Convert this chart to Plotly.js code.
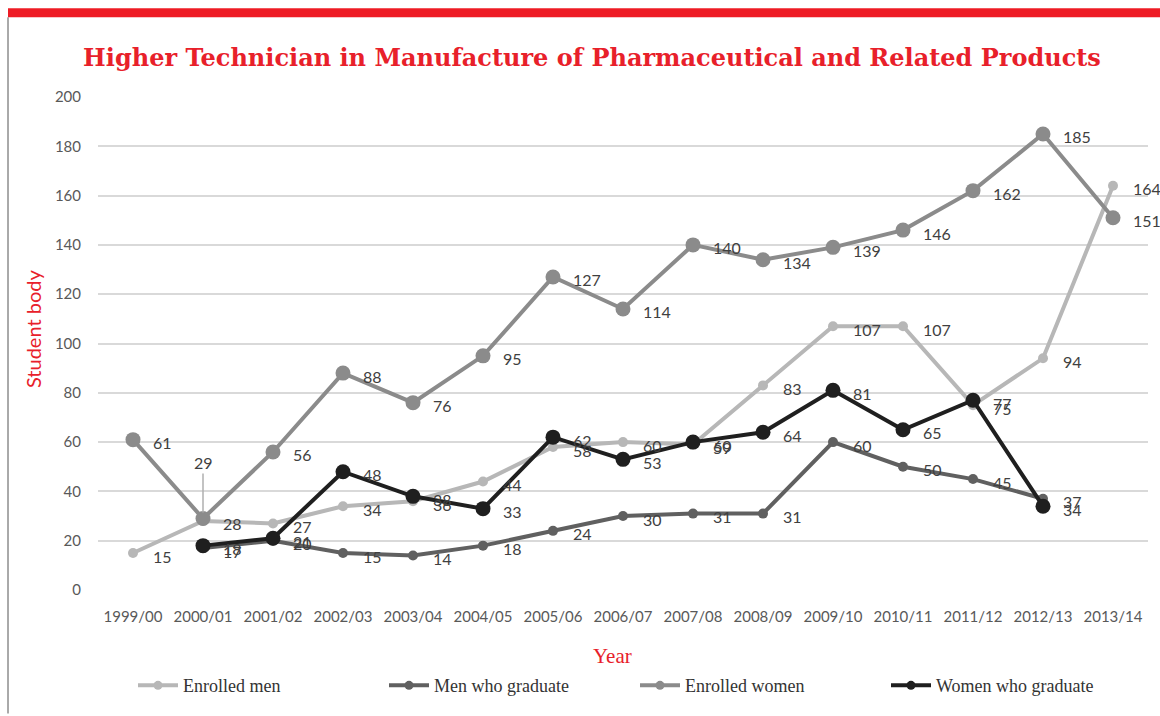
<!DOCTYPE html>
<html><head><meta charset="utf-8">
<script src="https://cdn.plot.ly/plotly-3.0.1.min.js"></script>
<style>html,body{margin:0;padding:0;background:#fff}#chart{width:1160px;height:716px}</style>
</head><body><div id="chart"></div>
<script>
const years = ["1999/00","2000/01","2001/02","2002/03","2003/04","2004/05","2005/06","2006/07","2007/08","2008/09","2009/10","2010/11","2011/12","2012/13","2013/14"];
const enrolledMen = [15,28,27,34,36,44,58,60,59,83,107,107,75,94,164];
const menGraduate = [null,17,20,15,14,18,24,30,31,31,60,50,45,37,null];
const enrolledWomen = [61,29,56,88,76,95,127,114,140,134,139,146,162,185,151];
const womenGraduate = [null,18,21,48,38,33,62,53,60,64,81,65,77,34,null];
const seriesNames = ["Enrolled men","Men who graduate","Enrolled women","Women who graduate"];
const yTicks = [0,20,40,60,80,100,120,140,160,180,200];

const series = [
  {name: seriesNames[0], y: enrolledMen, color: "#b7b7b7", size: 10},
  {name: seriesNames[1], y: menGraduate, color: "#606060", size: 10},
  {name: seriesNames[2], y: enrolledWomen, color: "#8b8b8b", size: 15},
  {name: seriesNames[3], y: womenGraduate, color: "#1f1f1f", size: 15}
];

const traces = series.map(s => ({
  type: "scatter", mode: "lines+markers", name: s.name, showlegend: false,
  x: years, y: s.y, connectgaps: false,
  line: {color: s.color, width: 4},
  marker: {color: s.color, size: s.size},
  hoverinfo: "x+y"
}));
// legend entries (no data of their own, small legend symbols like the reference)
series.forEach(s => traces.push({
  type: "scatter", mode: "lines+markers", name: s.name, showlegend: true,
  x: [null], y: [null],
  line: {color: s.color, width: 4},
  marker: {color: s.color, size: 9}
}));

const annotations = [];
series.forEach((s, si) => {
  s.y.forEach((v, i) => {
    if (v === null) return;
    if (si === 2 && i === 1) {
      annotations.push({x: years[i], y: v, text: String(v), showarrow: true, ax: 0, ay: -56,
        arrowhead: 0, arrowwidth: 1.5, arrowcolor: "#b0b0b0", standoff: 6,
        font: {family: "Lato, sans-serif", size: 16, color: "#404040"}});
      return;
    }
    annotations.push({x: years[i], y: v, text: String(v), showarrow: false,
      xanchor: "left", yanchor: "middle", xshift: 18, yshift: -3,
      font: {family: "Lato, sans-serif", size: 16, color: "#404040"}});
  });
});

annotations.push({xref: "paper", yref: "paper", x: (612-98)/1050, y: (592-658)/495, text: "Year",
  showarrow: false, xanchor: "center", yanchor: "middle",
  font: {family: "Liberation Serif, serif", size: 21, color: "#e8202a"}});
annotations.push({xref: "paper", yref: "paper", x: (33-98)/1050, y: (592-330)/495, text: "Student body",
  showarrow: false, xanchor: "center", yanchor: "middle", textangle: -90,
  font: {family: "Lato, sans-serif", size: 20, color: "#e8202a"}});

const layout = {
  width: 1160, height: 716,
  margin: {l: 98, r: 12, t: 97, b: 124},
  paper_bgcolor: "#fff", plot_bgcolor: "#fff",
  title: {text: "Higher Technician in Manufacture of Pharmaceutical and Related Products",
    x: 592/1160, xanchor: "center", y: 1-58/716, yanchor: "middle", xref: "container", yref: "container",
    font: {family: "DejaVu Serif", size: 24, color: "#e8202a", weight: "bold"}},
  xaxis: {type: "category", range: [-0.5, 14.5], showgrid: false, zeroline: false, showline: false,
    ticks: "", ticklabelstandoff: 16,
    tickfont: {family: "Lato, sans-serif", size: 15, color: "#595959"}},
  yaxis: {range: [0, 200], tickvals: yTicks, showgrid: true, gridcolor: "#d9d9d9", gridwidth: 2,
    zeroline: false, showline: false, ticks: "", ticklabelstandoff: 16,
    tickfont: {family: "Lato, sans-serif", size: 15, color: "#595959"}},
  legend: {orientation: "h", x: (133-98)/1050, xanchor: "left", y: (592-688)/495, yanchor: "middle",
    entrywidth: 196, entrywidthmode: "pixels", itemwidth: 40,
    font: {family: "Liberation Serif, serif", size: 18, color: "#333"}},
  showlegend: true,
  annotations: annotations,
  shapes: [
    {type: "rect", xref: "paper", yref: "paper", x0: (8-98)/1050, x1: (1160-98)/1050,
      y0: (592-17)/495, y1: (592-8)/495, fillcolor: "#ee1c25", line: {width: 0}},
    {type: "line", xref: "paper", yref: "paper", x0: (8-98)/1050, x1: (8-98)/1050,
      y0: (592-716)/495, y1: (592-17)/495, line: {color: "#555", width: 1}}
  ]
};

Plotly.newPlot("chart", traces, layout, {displayModeBar: false, staticPlot: true});
</script></body></html>
